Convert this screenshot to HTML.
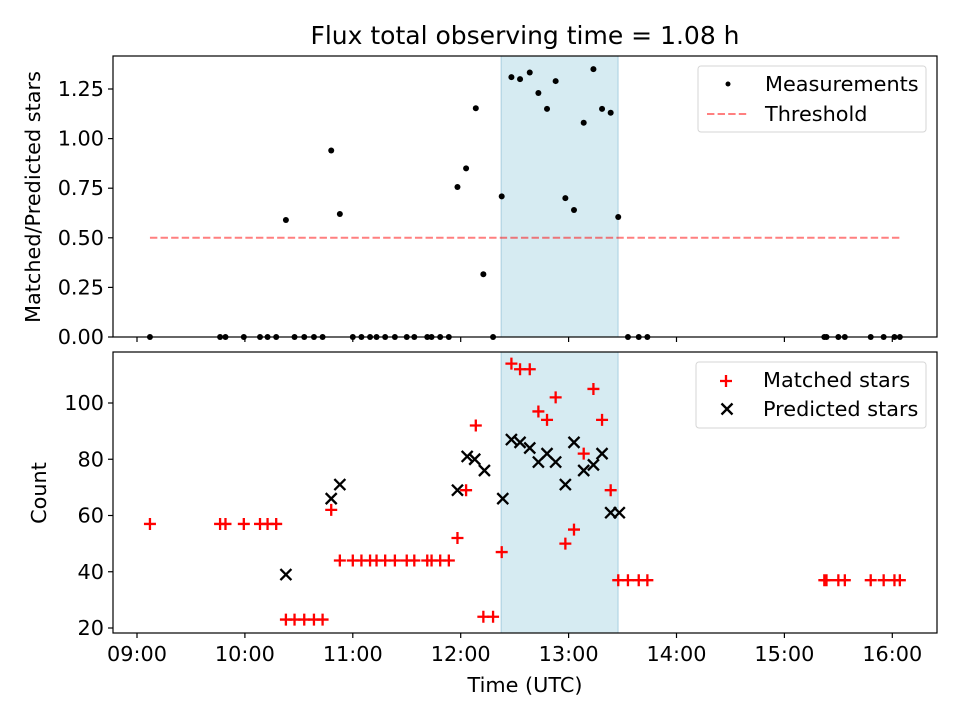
<!DOCTYPE html>
<html><head><meta charset="utf-8"><style>
body{margin:0;background:#fff}
svg{display:block;font-family:"DejaVu Sans","Liberation Sans",sans-serif}
</style></head><body>
<svg id="c" width="960" height="720" viewBox="0 0 960 720"></svg>
<script>
const matchedTimes=[9.12,9.77,9.82,9.99,10.14,10.21,10.29,10.38,10.46,10.55,10.64,10.72,10.80,10.88,11.0,11.08,11.16,11.22,11.30,11.39,11.50,11.57,11.69,11.73,11.81,11.89,11.97,12.05,12.14,12.21,12.30,12.38,12.47,12.55,12.64,12.72,12.80,12.88,12.97,13.05,13.14,13.23,13.31,13.39,13.46,13.55,13.65,13.73,15.37,15.39,15.50,15.56,15.80,15.92,16.02,16.07];
const matchedCounts=[57,57,57,57,57,57,57,23,23,23,23,23,62,44,44,44,44,44,44,44,44,44,44,44,44,44,52,69,92,24,24,47,114,112,112,97,94,102,50,55,82,105,94,69,37,37,37,37,37,37,37,37,37,37,37,37];
const ratioValues=[0,0,0,0,0,0,0,0.59,0,0,0,0,0.94,0.62,0,0,0,0,0,0,0,0,0,0,0,0,0.756,0.85,1.153,0.316,0,0.709,1.31,1.30,1.333,1.23,1.15,1.29,0.70,0.64,1.08,1.35,1.15,1.13,0.605,0,0,0,0,0,0,0,0,0,0,0];
const predTimes=[10.38,10.80,10.88,11.97,12.06,12.13,12.22,12.39,12.47,12.55,12.64,12.72,12.80,12.88,12.97,13.05,13.14,13.23,13.31,13.39,13.47];
const predCounts=[39,66,71,69,81,80,76,66,87,86,84,79,82,79,71,86,76,78,82,61,61];
const xTickHours=[9,10,11,12,13,14,15,16];
const xTickLabels=["09:00","10:00","11:00","12:00","13:00","14:00","15:00","16:00"];
const topTicks=[0,0.25,0.5,0.75,1.0,1.25];
const topTickLabels=["0.00","0.25","0.50","0.75","1.00","1.25"];
const botTicks=[20,40,60,80,100];
const threshold=0.5;
const spanStart=12.375, spanEnd=13.458;

const S=document.getElementById('c');const NS="http://www.w3.org/2000/svg";
function mk(t,a,p){const e=document.createElementNS(NS,t);for(const k in a)e.setAttribute(k,a[k]);(p||S).appendChild(e);return e;}
const L=113,R=937;
const X=h=>137+(h-9)*107.9;
const TT=56,TB=337,BT=352,BB=633;
const YT=v=>337-v*198.4;
const YB=v=>628-(v-20)*2.8125;
const FS=20.8;
function txt(x,y,s,opt,p){const e=mk('text',Object.assign({x:x,y:y,'font-size':FS,fill:'#000'},opt||{}),p);e.textContent=s;return e;}

for(const [t,b,n] of [[TT,TB,'top-span'],[BT,BB,'bottom-span']]){
 const r=mk('rect',{x:X(spanStart),y:t,width:X(spanEnd)-X(spanStart),height:b-t,fill:'#add8e6','fill-opacity':0.5,stroke:'#a9cfe0','stroke-width':1});
 
}
const th=mk('line',{x1:X(Math.min(...matchedTimes)),x2:X(Math.max(...matchedTimes)),y1:YT(threshold),y2:YT(threshold),stroke:'#ff0000','stroke-opacity':0.5,'stroke-width':2,'stroke-dasharray':'7.4,3.2'});

for(let i=0;i<matchedTimes.length;i++){
 const c=mk('circle',{cx:X(matchedTimes[i]),cy:YT(ratioValues[i]),r:3,fill:'#000'});
 
}
function plus(x,y,p){return mk('path',{d:`M${x-6},${y}h12M${x},${y-6}v12`,stroke:'#ff0000','stroke-width':2.3,fill:'none'},p);}
function cross(x,y,p){return mk('path',{d:`M${x-5.5},${y-5.5}l11,11M${x-5.5},${y+5.5}l11,-11`,stroke:'#000','stroke-width':2.3,fill:'none'},p);}
for(let i=0;i<matchedTimes.length;i++){
 const g=plus(X(matchedTimes[i]),YB(matchedCounts[i]));
 
}
for(let i=0;i<predTimes.length;i++){
 const g=cross(X(predTimes[i]),YB(predCounts[i]));
 
}
for(const [t,b,n] of [[TT,TB,'top-axes-frame'],[BT,BB,'bottom-axes-frame']]){
 const r=mk('rect',{x:L,y:t,width:R-L,height:b-t,fill:'none',stroke:'#000','stroke-width':1.2});
 
}
for(let i=0;i<xTickHours.length;i++){
 const x=X(xTickHours[i]);
 mk('line',{x1:x,x2:x,y1:TB,y2:TB+5,stroke:'#000','stroke-width':1.2});
 mk('line',{x1:x,x2:x,y1:BB,y2:BB+5,stroke:'#000','stroke-width':1.2});
 const t=txt(x,BB+28,xTickLabels[i],{'text-anchor':'middle'});
 
}
for(let i=0;i<topTicks.length;i++){
 const y=YT(topTicks[i]);
 mk('line',{x1:L-5,x2:L,y1:y,y2:y,stroke:'#000','stroke-width':1.2});
 const t=txt(L-9,y+7,topTickLabels[i],{'text-anchor':'end'});
 
}
for(let i=0;i<botTicks.length;i++){
 const y=YB(botTicks[i]);
 mk('line',{x1:L-5,x2:L,y1:y,y2:y,stroke:'#000','stroke-width':1.2});
 const t=txt(L-9,y+7,String(botTicks[i]),{'text-anchor':'end'});
 
}
let e=txt(525,44,'Flux total observing time = 1.08 h',{'text-anchor':'middle','font-size':25});

e=txt(525,692,'Time (UTC)',{'text-anchor':'middle'});

e=txt(0,0,'Matched/Predicted stars',{'text-anchor':'middle',transform:'translate(40,197) rotate(-90)'});

e=txt(0,0,'Count',{'text-anchor':'middle',transform:'translate(46,493) rotate(-90)'});

let lg=mk('g',{});
mk('rect',{x:698,y:66,width:228,height:66,rx:3,fill:'#fff','fill-opacity':0.8,stroke:'#d6d6d6'},lg);
mk('circle',{cx:728,cy:84,r:2.5,fill:'#000'},lg);
txt(765,91,'Measurements',{},lg);
mk('line',{x1:707,x2:749,y1:114,y2:114,stroke:'#ff0000','stroke-opacity':0.5,'stroke-width':2,'stroke-dasharray':'7.4,3.2'},lg);
txt(765,121,'Threshold',{},lg);
lg=mk('g',{});
mk('rect',{x:696,y:362,width:230,height:66,rx:3,fill:'#fff','fill-opacity':0.8,stroke:'#d6d6d6'},lg);
plus(726,381,lg);
txt(763,387,'Matched stars',{},lg);
cross(727,409,lg);
txt(763,416,'Predicted stars',{},lg);
</script>
</body></html>
